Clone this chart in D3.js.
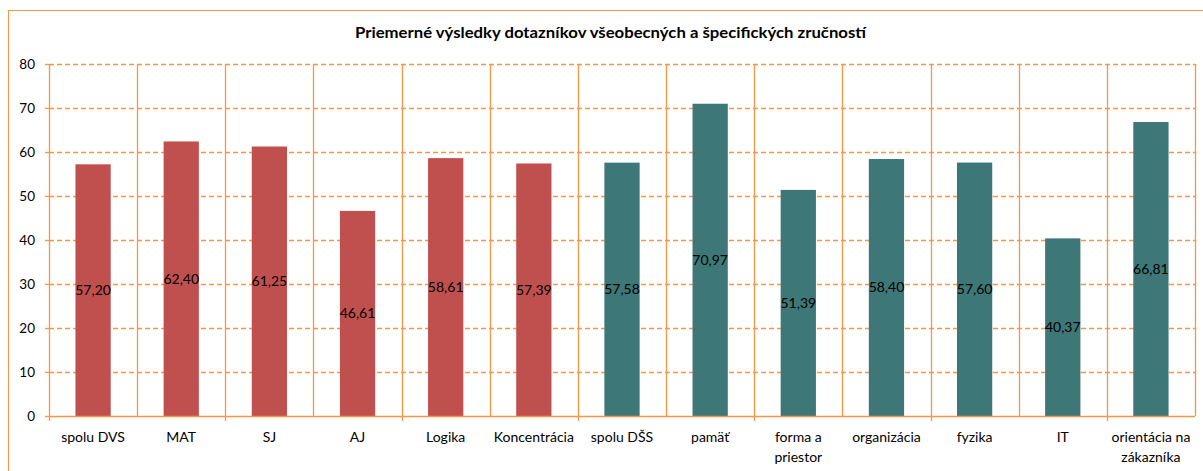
<!DOCTYPE html>
<html>
<head>
<meta charset="utf-8">
<script src="https://cdn.jsdelivr.net/npm/d3@7"></script>
<style>
  body { margin: 0; background: #fff; }
  text { font-family: "Lato", "Open Sans", sans-serif; fill: #000; }
</style>
</head>
<body>
<svg id="chart" width="1203" height="471"></svg>
<script>
const categories = [
  ["spolu DVS"], ["MAT"], ["SJ"], ["AJ"], ["Logika"], ["Koncentrácia"], ["spolu DŠS"],
  ["pamäť"], ["forma a", "priestor"], ["organizácia"], ["fyzika"], ["IT"], ["orientácia na", "zákazníka"]
];
const values = [57.20, 62.40, 61.25, 46.61, 58.61, 57.39, 57.58, 70.97, 51.39, 58.40, 57.60, 40.37, 66.81];
const groups = ["DVS", "DVS", "DVS", "DVS", "DVS", "DVS", "DSS", "DSS", "DSS", "DSS", "DSS", "DSS", "DSS"];
const yTicks = [0, 10, 20, 30, 40, 50, 60, 70, 80];
const title = "Priemerné výsledky dotazníkov všeobecných a špecifických zručností";

const orange = "#F79646";
const colors = { DVS: "#C0504D", DSS: "#3D7778" };

const svg = d3.select("#chart");
const margin = { left: 49, top: 64, right: 8, bottom: 55 };
const width = 1195 - margin.left;
const height = 416 - margin.top;

// outer chart border
svg.append("rect")
  .attr("x", 8.5).attr("y", 10.5)
  .attr("width", 1203).attr("height", 471)
  .attr("fill", "none").attr("stroke", orange).attr("stroke-width", 1);

svg.append("text")
  .attr("x", 610.5).attr("y", 37.5)
  .attr("text-anchor", "middle")
  .attr("textLength", 511).attr("lengthAdjust", "spacingAndGlyphs")
  .style("font-size", "14.5px").style("font-weight", "bold")
  .text(title);

const g = svg.append("g").attr("transform", `translate(${margin.left},${margin.top})`);

const x = d3.scaleBand().domain(d3.range(values.length)).range([0, width]).paddingInner(0).paddingOuter(0);
const y = d3.scaleLinear().domain([0, 80]).range([height, 0]);

// horizontal dashed gridlines
g.selectAll(".hgrid").data(yTicks.filter(d => d > 0)).enter().append("line")
  .attr("x1", 0).attr("x2", width)
  .attr("y1", d => Math.round(y(d)) + 0.5).attr("y2", d => Math.round(y(d)) + 0.5)
  .attr("stroke", orange).attr("stroke-width", 1.3).attr("stroke-dasharray", "5,3");

// vertical category separators
const bounds = d3.range(values.length + 1).map(i => i === values.length ? width : x(i));
g.selectAll(".vgrid").data(bounds).enter().append("line")
  .attr("x1", d => Math.round(d) + 0.5).attr("x2", d => Math.round(d) + 0.5)
  .attr("y1", 0).attr("y2", height)
  .attr("stroke", orange).attr("stroke-width", 1.3);

// y axis
const yAxis = g.append("g").call(d3.axisLeft(y).tickValues(yTicks).tickSize(4).tickPadding(10));
yAxis.select(".domain").remove();
yAxis.selectAll(".tick line").attr("stroke", orange).attr("stroke-width", 1.3);
yAxis.selectAll(".tick text").style("font-size", "13.5px").style("font-family", "Lato, sans-serif");

// bars
g.selectAll(".bar").data(values).enter().append("rect")
  .attr("x", (d, i) => x(i) + x.bandwidth() * 0.3)
  .attr("width", x.bandwidth() * 0.4)
  .attr("y", d => y(d))
  .attr("height", d => height - y(d))
  .attr("fill", (d, i) => colors[groups[i]]);

// value labels centered inside bars
g.selectAll(".val").data(values).enter().append("text")
  .attr("x", (d, i) => x(i) + x.bandwidth() / 2)
  .attr("y", d => (y(d) + height) / 2)
  .attr("dy", "0.35em")
  .attr("text-anchor", "middle")
  .style("font-size", "14px")
  .text(d => d.toFixed(2).replace(".", ","));

// x axis baseline and ticks every second category
g.append("line")
  .attr("x1", 0).attr("x2", width)
  .attr("y1", height + 0.5).attr("y2", height + 0.5)
  .attr("stroke", orange).attr("stroke-width", 1.3);
g.selectAll(".xtick").data(bounds.filter((d, i) => i % 2 === 0)).enter().append("line")
  .attr("x1", d => Math.round(d) + 0.5).attr("x2", d => Math.round(d) + 0.5)
  .attr("y1", height).attr("y2", height + 5)
  .attr("stroke", orange).attr("stroke-width", 1.3);

// category labels
const labels = g.selectAll(".xlab").data(categories).enter().append("text")
  .attr("x", (d, i) => x(i) + x.bandwidth() / 2)
  .attr("y", height + 26)
  .attr("text-anchor", "middle")
  .style("font-size", "14px");
labels.selectAll("tspan").data(d => d).enter().append("tspan")
  .attr("x", function () { return this.parentNode.getAttribute("x"); })
  .attr("dy", (d, i) => i === 0 ? 0 : 20)
  .text(d => d);
</script>
</body>
</html>
